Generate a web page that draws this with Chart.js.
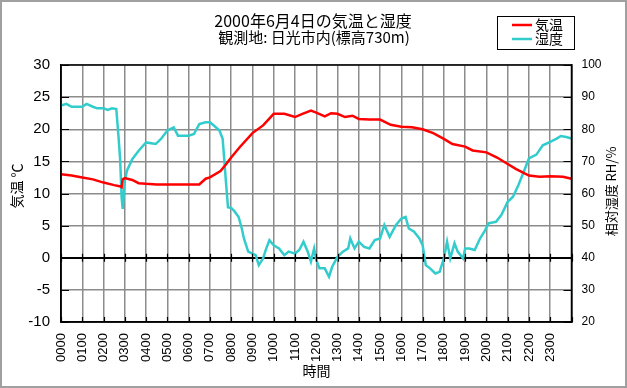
<!DOCTYPE html>
<html>
<head>
<meta charset="utf-8">
<script src="https://cdn.jsdelivr.net/npm/chart.js@4/dist/chart.umd.min.js"></script>
<style>
html,body{margin:0;padding:0;background:#fff;}
canvas{display:block;}
</style>
</head>
<body>
<canvas id="c" width="627" height="388" style="width:627px;height:388px"></canvas>
<script>
// ---- data ----
const titleLines = ['2000年6月4日の気温と湿度', '観測地: 日光市内(標高730m)'];
const seriesNames = ['気温', '湿度'];
const hourLabels = ['0000','0100','0200','0300','0400','0500','0600','0700','0800','0900','1000','1100',
                    '1200','1300','1400','1500','1600','1700','1800','1900','2000','2100','2200','2300'];
const leftAxisTitle = '気温 ℃';
const rightAxisTitle = '相対湿度 RH/%';
const xAxisTitle = '時間';

const tempHours = [0,0.5,1,1.5,2,2.5,2.8,2.85,2.9,3.0,3.35,3.65,4,4.5,5,5.5,6,6.5,6.8,7,7.5,7.75,8,8.4,9,9.5,9.75,10,10.5,11,11.35,11.75,12,12.4,12.7,13,13.35,13.7,14,14.5,15,15.5,16,16.5,17,17.5,18,18.4,19,19.35,20,20.5,21,21.4,22,22.5,23,23.6,24];
const tempValues = [13.0,12.8,12.5,12.2,11.7,11.3,11.1,11.0,12.2,12.4,12.1,11.6,11.5,11.4,11.4,11.4,11.4,11.4,12.3,12.5,13.5,14.5,15.6,17.2,19.4,20.6,21.5,22.4,22.4,21.9,22.4,22.9,22.6,22.0,22.5,22.4,21.9,22.1,21.6,21.5,21.5,20.7,20.4,20.3,20.0,19.4,18.5,17.7,17.3,16.7,16.4,15.6,14.6,13.8,12.8,12.6,12.7,12.6,12.3];

const rhHours = [0,0.25,0.5,1,1.2,1.5,1.7,2,2.2,2.4,2.6,2.7,2.78,2.85,2.9,3.0,3.1,3.35,3.65,4,4.45,4.7,5,5.3,5.5,6,6.25,6.5,6.8,7,7.2,7.45,7.6,7.68,7.75,7.85,8.0,8.15,8.35,8.5,8.6,8.8,9,9.15,9.3,9.5,9.65,9.8,10,10.25,10.5,10.7,11,11.2,11.4,11.6,11.75,11.9,12,12.15,12.4,12.6,12.75,13,13.25,13.5,13.6,13.8,14,14.25,14.5,14.75,15,15.2,15.45,15.75,16,16.2,16.35,16.6,16.85,17,17.15,17.35,17.6,17.8,18,18.15,18.3,18.5,18.65,18.9,19,19.2,19.45,19.7,19.9,20.1,20.45,20.7,21,21.25,21.5,21.75,22,22.35,22.65,23,23.3,23.5,23.75,24];
const rhValues = [87.4,87.9,87.0,87.0,87.9,87.0,86.5,86.5,86.0,86.5,86.3,78.0,70.7,58.8,55.2,64.0,67.1,70.7,73.3,75.9,75.4,77.0,79.6,80.6,78.0,78.0,78.5,81.6,82.2,82.2,81.1,79.6,77.0,70.2,64.0,55.7,55.5,54.5,52.7,49.1,46.0,41.9,41.3,40.8,37.7,39.8,42.9,45.5,43.9,42.9,40.8,41.9,41.3,42.4,45.0,41.9,38.8,42.9,39.3,36.7,36.7,34.1,37.2,40.3,41.9,42.9,46.0,42.9,45.0,43.4,42.9,45.5,46.0,50.2,46.5,50.2,52.2,52.7,49.1,48.1,46.0,43.9,37.7,36.7,35.1,35.6,39.8,45.0,39.8,44.5,41.9,39.8,42.9,42.9,42.4,46.0,48.1,50.7,51.2,53.3,57.4,59.0,62.6,66.7,70.9,72.1,75.0,76.1,77.1,77.9,77.6,77.1];

const tempColor = '#ff0000';
const rhColor = '#33cccc';
const gridGray = '#8c8c8c';

const latin = "'Liberation Sans', Arial, sans-serif";
const jp = "'Noto Sans CJK JP', sans-serif";

const decor = {
  id: 'decor',
  beforeDraw(chart) {
    const c = chart.ctx;
    c.save();
    c.fillStyle = '#fff';
    c.fillRect(0, 0, chart.width, chart.height);
    c.restore();
  },
  afterDraw(chart) {
    const c = chart.ctx;
    const a = chart.chartArea;
    const sx = chart.scales.x, sy = chart.scales.y, sy1 = chart.scales.y1;
    c.save();
    // plot border
    c.strokeStyle = '#000';
    c.lineWidth = 1.5;
    c.strokeRect(a.left, a.top, a.right - a.left, a.bottom - a.top);
    // inward ticks
    c.lineWidth = 1.2;
    c.beginPath();
    sy.ticks.forEach(t => {
      const y = Math.round(sy.getPixelForValue(t.value)) + 0.5;
      c.moveTo(a.left, y); c.lineTo(a.left + 8, y);
    });
    sy1.ticks.forEach(t => {
      const y = Math.round(sy1.getPixelForValue(t.value)) + 0.5;
      c.moveTo(a.right - 8, y); c.lineTo(a.right, y);
    });
    const y0 = sy.getPixelForValue(0);
    sx.ticks.forEach(t => {
      const x = Math.round(sx.getPixelForValue(t.value)) + 0.5;
      c.moveTo(x, y0 - 4); c.lineTo(x, y0 + 4);
      c.moveTo(x, a.bottom); c.lineTo(x, a.bottom - 5);
    });
    c.stroke();

    // title
    c.fillStyle = '#000';
    c.textAlign = 'center';
    c.textBaseline = 'middle';
    c.font = '16px ' + jp;
    c.fillText(titleLines[0], 313, 21);
    c.font = '15px ' + jp;
    c.fillText(titleLines[1], 314, 37);

    // legend
    c.lineWidth = 1;
    c.strokeStyle = '#000';
    c.strokeRect(497.5, 16.5, 77, 33);
    const ds = chart.data.datasets;
    [[25, 0], [39, 1]].forEach(([ly, i]) => {
      c.strokeStyle = ds[i].borderColor;
      c.lineWidth = 2.5;
      c.beginPath(); c.moveTo(512, ly); c.lineTo(532, ly); c.stroke();
      c.fillStyle = '#000';
      c.textAlign = 'left';
      c.font = '14px ' + jp;
      c.fillText(ds[i].label, 535, ly);
    });

    // axis titles
    c.textAlign = 'center';
    c.font = '14px ' + jp;
    c.fillText(xAxisTitle, 316.5, 371);
    c.save();
    c.translate(16.5, 186);
    c.rotate(-Math.PI / 2);
    c.fillText(leftAxisTitle, 0, 0);
    c.restore();
    c.save();
    c.translate(611, 191.5);
    c.rotate(-Math.PI / 2);
    c.font = '13px ' + jp;
    c.fillText(rightAxisTitle, 0, 0);
    c.restore();

    // outer frame
    c.strokeStyle = '#a0a0a0';
    c.lineWidth = 2;
    c.strokeRect(1, 1, chart.width - 2, chart.height - 2);
    c.restore();
  }
};

new Chart(document.getElementById('c'), {
  type: 'line',
  data: {
    datasets: [
      {
        label: seriesNames[0],
        data: tempHours.map((h, i) => ({ x: h, y: tempValues[i] })),
        borderColor: tempColor, backgroundColor: tempColor,
        borderWidth: 2.5, pointRadius: 0, tension: 0, yAxisID: 'y'
      },
      {
        label: seriesNames[1],
        data: rhHours.map((h, i) => ({ x: h, y: rhValues[i] })),
        borderColor: rhColor, backgroundColor: rhColor,
        borderWidth: 2.5, pointRadius: 0, tension: 0, yAxisID: 'y1'
      }
    ]
  },
  options: {
    responsive: false,
    devicePixelRatio: 1,
    animation: false,
    layout: { padding: { top: 65, left: 0, right: 0, bottom: 0 } },
    plugins: { legend: { display: false }, title: { display: false }, tooltip: { enabled: false } },
    scales: {
      x: {
        type: 'linear', min: 0, max: 24,
        afterFit: s => { s.height = 66; },
        afterBuildTicks: s => { s.ticks = hourLabels.map((l, i) => ({ value: i })).concat([{ value: 24 }]); },
        ticks: {
          autoSkip: false, minRotation: 90, maxRotation: 90, padding: 11, color: '#000',
          font: { family: "'Liberation Sans Narrow', " + latin, size: 13 },
          callback: v => (v < hourLabels.length ? hourLabels[v] : '')
        },
        grid: { color: gridGray, lineWidth: 1.5, drawTicks: false },
        border: { display: true, color: '#000', width: 1.5 }
      },
      y: {
        position: 'left', min: -10, max: 30,
        afterFit: s => { s.width = 61; },
        ticks: { stepSize: 5, padding: 11, color: '#000', font: { family: latin, size: 15 } },
        grid: {
          color: ctx => (ctx.tick && ctx.tick.value === 0 ? '#000' : gridGray),
          lineWidth: ctx => (ctx.tick && ctx.tick.value === 0 ? 2 : 1.5),
          drawTicks: false
        },
        border: { display: true, color: '#000', width: 1.5 }
      },
      y1: {
        position: 'right', min: 20, max: 100,
        afterFit: s => { s.width = 55.5; },
        ticks: { stepSize: 10, padding: 10, color: '#000', font: { family: latin, size: 12 } },
        grid: { drawOnChartArea: false, drawTicks: false },
        border: { display: true, color: '#000', width: 1.5 }
      }
    }
  },
  plugins: [decor]
});
</script>
</body>
</html>
